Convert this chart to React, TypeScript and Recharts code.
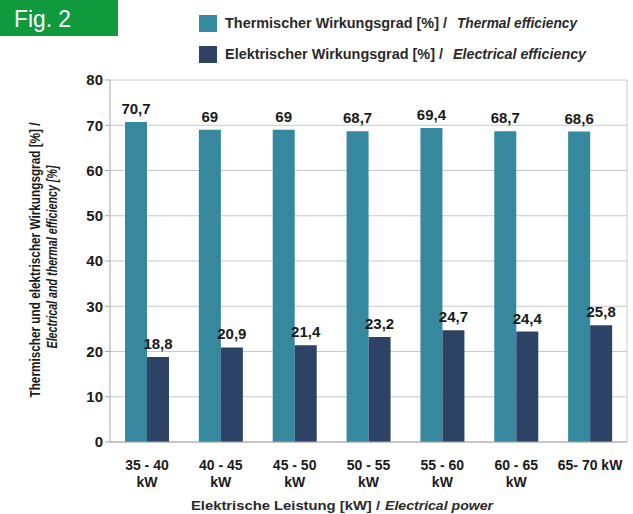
import React from 'react';
import { BarChart, Bar, XAxis, YAxis, CartesianGrid, LabelList } from 'recharts';

const categories = ['35 - 40\nkW', '40 - 45\nkW', '45 - 50\nkW', '50 - 55\nkW', '55 - 60\nkW', '60 - 65\nkW', '65- 70 kW'];
const thermal = [70.7, 69, 69, 68.7, 69.4, 68.7, 68.6];
const electrical = [18.8, 20.9, 21.4, 23.2, 24.7, 24.4, 25.8];
const yTicks = [0, 10, 20, 30, 40, 50, 60, 70, 80];

const data = categories.map((c, i) => ({ name: c, thermal: thermal[i], electrical: electrical[i] }));

const TEAL = '#35889e';
const NAVY = '#2c4366';
const TXT = '#1a1a1a';
const FONT = '"Liberation Sans", Arial, sans-serif';

const fmt = (v: any) => String(v).replace('.', ',');

const XTick = (props: any) => {
  const { x, payload } = props;
  const lines = String(payload.value).split('\n');
  return (
    <g>
      {lines.map((l: string, i: number) => (
        <text key={i} x={x} y={470 + i * 17} textAnchor="middle" fontFamily={FONT} fontWeight="bold" fontSize={14} fill={TXT}>
          {l}
        </text>
      ))}
    </g>
  );
};

const YTitle = (props: any) => {
  const vb = props.viewBox || {};
  const cy = vb.y + vb.height / 2;
  return (
    <g>
      <text transform={`translate(40, ${cy - 1}) rotate(-90)`} textAnchor="middle" fontFamily={FONT} fontWeight="bold" fontSize={14} fill={TXT} textLength={275} lengthAdjust="spacingAndGlyphs">
        Thermischer und elektrischer Wirkungsgrad [%] /
      </text>
      <text transform={`translate(57, ${cy - 4}) rotate(-90)`} textAnchor="middle" fontFamily={FONT} fontWeight="bold" fontStyle="italic" fontSize={14} fill={TXT} textLength={183} lengthAdjust="spacingAndGlyphs">
        Electrical and thermal efficiency [%]
      </text>
    </g>
  );
};

const XTitle = () => (
  <g fontFamily={FONT} fontWeight="bold" fontSize={13} fill="#2a2a2a">
    <text x={191} y={510} textLength={189} lengthAdjust="spacingAndGlyphs">
      Elektrische Leistung [kW] /
    </text>
    <text x={385} y={510} fontStyle="italic" textLength={108} lengthAdjust="spacingAndGlyphs">
      Electrical power
    </text>
  </g>
);

const Bullet = (props: any) => {
  const { x, y, width, value } = props;
  return (
    <text x={x + width / 2} y={y - 8} textAnchor="middle" fontFamily={FONT} fontWeight="bold" fontSize={15} fill={TXT}>
      {fmt(value)}
    </text>
  );
};

const legendItems = [
  { c: TEAL, a: 'Thermischer Wirkungsgrad [%] /', b: 'Thermal efficiency', wa: 222, xb: 457, wb: 120, y: 28, ry: 15 },
  { c: NAVY, a: 'Elektrischer Wirkungsgrad [%] /', b: 'Electrical efficiency', wa: 218, xb: 453, wb: 133, y: 59, ry: 46 },
];

export default function App() {
  return (
    <div style={{ position: 'absolute', left: 0, top: 0, width: 633, height: 514, background: '#fff' }}>
      <BarChart width={633} height={514} data={data} margin={{ top: 80, right: 3, left: 0, bottom: 0 }} barGap={0} barSize={22}>
        <CartesianGrid vertical={false} stroke="#c8c8c8" />
        <XAxis dataKey="name" height={72} interval={0} tick={<XTick />} tickLine={false} axisLine={{ stroke: '#a8a8a8' }} label={<XTitle />} />
        <YAxis width={110} domain={[0, 80]} ticks={yTicks} interval={0} tick={{ fontFamily: FONT, fontWeight: 'bold', fontSize: 15, fill: TXT }} tickLine={{ stroke: '#a8a8a8' }} tickSize={5} axisLine={{ stroke: '#a8a8a8' }} label={<YTitle />} />
        <YAxis yAxisId="r" orientation="right" width={3} domain={[0, 80]} tick={false} tickLine={false} axisLine={{ stroke: '#c8c8c8' }} />
        <Bar dataKey="thermal" fill={TEAL} isAnimationActive={false}>
          <LabelList dataKey="thermal" content={<Bullet />} />
        </Bar>
        <Bar dataKey="electrical" fill={NAVY} isAnimationActive={false}>
          <LabelList dataKey="electrical" content={<Bullet />} />
        </Bar>
      </BarChart>
      <svg width={633} height={75} style={{ position: 'absolute', left: 0, top: 0 }}>
        <rect x={0} y={0} width={118} height={36} fill="#0f9a3e" />
        <text x={14} y={27} fill="#fff" fontFamily={FONT} fontSize={24} textLength={57} lengthAdjust="spacingAndGlyphs">
          Fig. 2
        </text>
        {legendItems.map((it, i) => (
          <g key={i} fontFamily={FONT} fontWeight="bold" fontSize={14} fill="#2a2a2a">
            <rect x={199} y={it.ry} width={18} height={17} fill={it.c} />
            <text x={225} y={it.y} textLength={it.wa} lengthAdjust="spacingAndGlyphs">
              {it.a}
            </text>
            <text x={it.xb} y={it.y} fontStyle="italic" textLength={it.wb} lengthAdjust="spacingAndGlyphs">
              {it.b}
            </text>
          </g>
        ))}
      </svg>
    </div>
  );
}
